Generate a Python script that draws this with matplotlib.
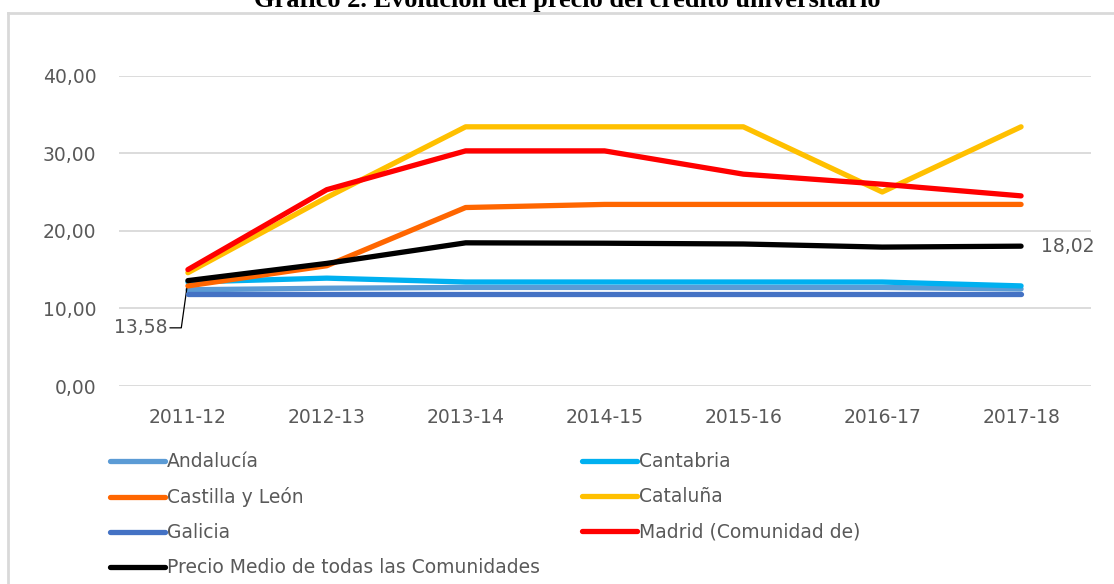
import numpy as np
import matplotlib
matplotlib.use('Agg')
import matplotlib.pyplot as plt
from matplotlib.lines import Line2D

cursos = ['2011-12', '2012-13', '2013-14', '2014-15', '2015-16', '2016-17', '2017-18']

andalucia = [12.4, 12.6, 12.7, 12.7, 12.7, 12.7, 12.5]
cantabria = [13.4, 13.9, 13.4, 13.4, 13.4, 13.4, 12.9]
castilla = [12.9, 15.5, 23.0, 23.4, 23.4, 23.4, 23.4]
cataluna = [14.6, 24.3, 33.4, 33.4, 33.4, 25.0, 33.4]
galicia = [11.9, 11.9, 11.9, 11.9, 11.9, 11.9, 11.9]
madrid = [15.0, 25.3, 30.3, 30.3, 27.3, 26.0, 24.5]
medio = [13.58, 15.8, 18.45, 18.4, 18.3, 17.9, 18.02]

series = [
    ('Andalucía', andalucia, '#5B9BD5'),
    ('Cantabria', cantabria, '#00B0F0'),
    ('Castilla y León', castilla, '#FF6600'),
    ('Cataluña', cataluna, '#FFC000'),
    ('Galicia', galicia, '#4472C4'),
    ('Madrid (Comunidad de)', madrid, '#FF0000'),
    ('Precio Medio de todas las Comunidades', medio, '#000000'),
]

plt.rcParams['font.family'] = ['DejaVu Sans']
gray = '#595959'
fs = 13.5

fig = plt.figure(figsize=(11.14, 5.84), dpi=100)
W, H = 1114, 584

# marco gris del gráfico (solo izquierda y arriba visibles)
fig.add_artist(Line2D([8 / W, 8 / W], [0, 1 - 13 / H], transform=fig.transFigure,
                      color='#d9d9d9', linewidth=2))
fig.add_artist(Line2D([8 / W, 1], [1 - 13 / H, 1 - 13 / H], transform=fig.transFigure,
                      color='#d9d9d9', linewidth=2))
fig.text(567 / W, 1 - 7 / H, 'Gráfico 2. Evolución del precio del crédito universitario',
         ha='center', va='baseline', fontsize=19, fontweight='bold',
         family='Liberation Serif')

ax = fig.add_axes([118.5 / W, 1 - 386 / H, 972 / W, 310.4 / H])
x = np.arange(len(cursos))
handles = {}
for i, (name, vals, col) in enumerate(series):
    ln, = ax.plot(x, vals, color=col, linewidth=3.8, solid_capstyle='round',
                  solid_joinstyle='round', label=name, zorder=3 + i, clip_on=False)
    handles[name] = ln

ax.set_xlim(-0.5, len(cursos) - 0.5)
ax.set_ylim(0, 40)
ax.set_yticks([0, 10, 20, 30, 40])
ax.set_yticklabels(['0,00', '10,00', '20,00', '30,00', '40,00'])
ax.set_xticks(x)
ax.set_xticklabels(cursos)
ax.tick_params(axis='both', length=0, labelsize=fs, labelcolor=gray)
ax.tick_params(axis='y', pad=16)
ax.tick_params(axis='x', pad=16)
ax.grid(axis='y', color='#d9d9d9', linewidth=1.3)
ax.set_axisbelow(True)
for s in ['top', 'right', 'left', 'bottom']:
    ax.spines[s].set_visible(False)

ax.annotate('13,58', xy=(0, medio[0]), xytext=(-15, -34), textcoords='offset points',
            ha='right', va='center', fontsize=fs, color=gray,
            arrowprops=dict(arrowstyle='-', color='black', lw=0.9, shrinkA=0, shrinkB=0,
                            relpos=(1, 0.5),
                            connectionstyle='angle,angleA=0,angleB=82,rad=0'))
ax.annotate('18,02', xy=(6, medio[-1]), xytext=(14, 0), textcoords='offset points',
            ha='left', va='center', fontsize=fs, color=gray)

order = ['Andalucía', 'Castilla y León', 'Galicia', 'Precio Medio de todas las Comunidades',
         'Cantabria', 'Cataluña', 'Madrid (Comunidad de)']
leg = fig.legend([handles[n] for n in order], order, ncol=2, loc='upper left',
                 bbox_to_anchor=(101 / W, 1 - 443 / H), frameon=False, fontsize=fs,
                 handlelength=2.9, handletextpad=0.12, labelspacing=0.85,
                 columnspacing=2.25, borderpad=0)
for t in leg.get_texts():
    t.set_color(gray)

fig.savefig('out.png', dpi=100)
